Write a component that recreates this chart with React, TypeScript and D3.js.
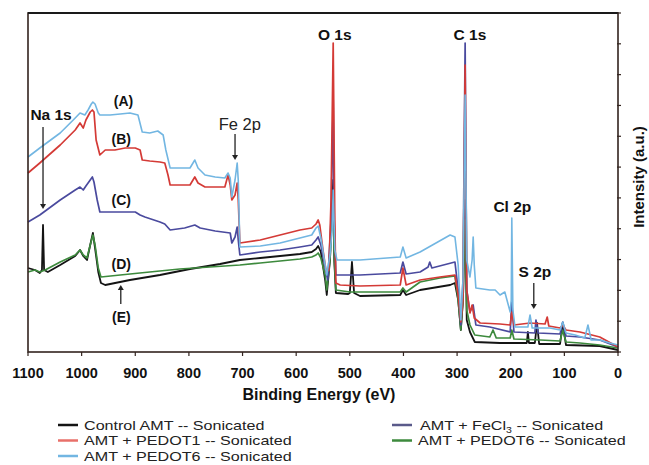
import React from "react";
import * as d3 from "d3";

// Binding energy (eV) / intensity (a.u.) pairs for each spectrum
const seriesA_BE = [1100,1078,1040,1012,1003,994,988,982,979,975,969,966,947,928,910,895,887,873,858,848,843,835,808,798,789,783,770,751,733,727,723,720,714,710,708,705,667,630,593,571,563,559,554,546,543,537,533,531,529,528,524,481,406,401,395,369,313,304,298,293,289,285,282,276,272,270,268,265,239,229,220,211,201,199,198,196,192,168,164,160,127,108,103,97,80,62,56,50,34,15,0];
const seriesA_I = [195,204,219,234,239,237,242,248,250,248,239,237,237,238,239,237,220,219,221,217,202,184,184,184,192,184,177,175,174,179,174,155,172,189,172,105,106,109,114,117,124,126,114,87,77,97,122,162,122,102,92,92,95,105,94,100,117,115,87,32,72,257,92,75,92,115,87,64,62,62,57,60,40,52,134,42,25,25,37,24,24,22,30,19,17,14,27,12,12,9,7];

const seriesB_BE = [1100,1078,1040,1012,1003,997,992,984,980,977,973,966,956,938,919,900,891,887,873,854,845,839,835,798,789,783,770,733,727,723,720,714,710,708,705,667,630,593,571,563,559,556,550,544,539,535,531,528,526,518,481,406,401,395,369,332,304,298,293,289,285,282,276,272,268,257,220,201,198,194,164,136,132,129,108,103,97,71,34,0];
const seriesB_I = [179,189,207,222,229,224,232,240,242,240,212,197,202,202,204,204,202,192,191,190,189,177,167,167,175,169,165,165,177,167,152,157,169,152,109,112,117,122,124,128,132,127,102,80,82,152,309,132,69,67,66,67,84,67,72,75,77,57,30,52,287,62,39,47,34,29,28,27,40,27,29,28,35,26,24,27,22,20,15,5];

const seriesC_BE = [1100,1078,1040,1012,1003,997,992,984,980,977,971,966,947,919,900,891,882,854,845,835,808,789,779,751,723,720,714,710,708,705,667,630,593,571,563,559,554,546,541,535,531,529,526,481,406,401,395,369,354,351,347,304,298,293,289,285,282,276,270,265,239,201,198,194,155,153,149,108,103,97,71,34,0];
const seriesC_I = [130,137,152,162,165,162,166,172,175,170,152,140,140,140,140,137,135,130,128,122,124,127,124,121,119,109,115,125,112,97,100,102,105,107,112,115,107,84,72,132,252,132,77,77,79,90,78,80,85,90,84,90,62,27,72,309,62,40,47,27,25,20,50,20,19,32,19,18,30,16,15,12,5];

const seriesD_BE = [1100,1087,1078,1068,1040,1012,1003,997,990,984,979,975,969,964,928,873,817,761,705,667,630,593,571,563,559,554,546,543,537,531,529,526,500,406,401,395,369,332,304,298,293,289,285,282,276,267,239,233,227,201,198,194,145,108,103,97,71,34,0];
const seriesD_I = [80,82,80,82,90,97,102,97,94,107,117,107,84,75,77,80,83,85,87,89,91,93,95,97,99,94,77,62,92,152,92,62,60,60,64,60,70,74,76,52,22,52,132,42,27,17,15,22,14,14,22,13,12,11,22,10,9,7,4];

const seriesE_BE = [1100,1087,1078,1074,1072,1070,1063,1040,1012,1003,997,990,984,979,975,969,964,956,910,854,798,742,705,667,630,593,571,563,559,554,546,543,537,531,529,526,503,500,496,492,481,406,401,395,369,313,304,298,293,289,285,282,276,267,220,170,168,166,155,151,147,108,103,97,34,0];
const seriesE_I = [84,82,79,82,127,82,80,87,96,102,96,92,107,119,104,80,69,67,72,77,83,88,92,94,96,98,100,103,106,100,72,57,92,172,92,59,58,59,90,59,56,57,62,57,62,67,69,52,22,52,152,32,20,10,9,9,20,9,9,29,8,8,29,7,6,2];

const xTicks = [1100, 1000, 900, 800, 700, 600, 500, 400, 300, 200, 100, 0];
const legendLabels = [
  "Control AMT -- Sonicated",
  "AMT + PEDOT1 -- Sonicated",
  "AMT + PEDOT6 -- Sonicated",
  "AMT + FeCl3 -- Sonicated",
  "AMT + PEDOT6 -- Sonicated",
];

const FONT = "'Liberation Sans', Arial, Helvetica, sans-serif";

export default function App() {
  const W = 649, H = 465;
  const left = 28, right = 618, top = 13, bottom = 352;
  const x = d3.scaleLinear().domain([1100, 0]).range([left, right]);
  const y = d3.scaleLinear().domain([0, 339]).range([bottom, top]);
  const yTicks = d3.range(0, 12).map((i) => (i * 339) / 11);

  const mk = (be: number[], it: number[]) => be.map((b, i) => [b, it[i]] as [number, number]);
  const line = d3.line<[number, number]>().x((d) => x(d[0])).y((d) => y(d[1]));

  const series = [
    { key: "E", data: mk(seriesE_BE, seriesE_I), color: "#141414", w: 1.8 },
    { key: "D", data: mk(seriesD_BE, seriesD_I), color: "#3d8a3d", w: 1.7 },
    { key: "C", data: mk(seriesC_BE, seriesC_I), color: "#4a4a9e", w: 1.7 },
    { key: "B", data: mk(seriesB_BE, seriesB_I), color: "#d43a36", w: 1.7 },
    { key: "A", data: mk(seriesA_BE, seriesA_I), color: "#72b6e2", w: 1.6 },
  ];

  const arrowDown = (xp: number, y1: number, y2: number, col: string) => (
    <g>
      <line x1={xp} y1={y1} x2={xp} y2={y2 - 4} stroke={col} strokeWidth={1.3} />
      <path d={`M${xp - 3},${y2 - 5} L${xp + 3},${y2 - 5} L${xp},${y2} Z`} fill={col} />
    </g>
  );
  const arrowUp = (xp: number, y1: number, y2: number, col: string) => (
    <g>
      <line x1={xp} y1={y1} x2={xp} y2={y2 + 4} stroke={col} strokeWidth={1.3} />
      <path d={`M${xp - 3},${y2 + 5} L${xp + 3},${y2 + 5} L${xp},${y2} Z`} fill={col} />
    </g>
  );

  const legendColors = ["#141414", "#e8706a", "#72b6e2", "#5a5a8a", "#3d8a3d"];
  const legendPos = [
    [58, 425], [58, 440.5], [58, 456], [392, 425], [392, 440.5],
  ];

  return (
    <svg width={W} height={H} style={{ position: "absolute", left: 0, top: 0, background: "#fff" }} fontFamily={FONT}>
      <rect x={0} y={0} width={W} height={H} fill="#fff" />
      {series.map((s) => (
        <path key={s.key} d={line(s.data) || ""} fill="none" stroke={s.color} strokeWidth={s.w} strokeLinejoin="round" />
      ))}
      {/* frame */}
      <rect x={left} y={top} width={right - left} height={bottom - top} fill="none" stroke="#33241f" strokeWidth={1.6} />
      <line x1={left} x2={right} y1={top} y2={top} stroke="#1a1a1a" strokeWidth={2.2} />
      {xTicks.map((t) => (
        <line key={t} x1={x(t)} x2={x(t)} y1={bottom} y2={bottom + 4} stroke="#33241f" strokeWidth={1.2} />
      ))}
      {yTicks.map((t, i) => (
        <line key={i} x1={right - 1} x2={right + 3} y1={y(t)} y2={y(t)} stroke="#33241f" strokeWidth={1.2} />
      ))}
      {xTicks.map((t) => (
        <text key={t} x={x(t)} y={378} textAnchor="middle" fontSize={14.5} fontWeight="bold" fill="#111">{t}</text>
      ))}
      <text x={319} y={400} textAnchor="middle" fontSize={16} fontWeight="bold" fill="#111">Binding Energy (eV)</text>
      <text transform={`translate(644,${177}) rotate(-90)`} textAnchor="middle" fontSize={15} fontWeight="bold" fill="#111">Intensity (a.u.)</text>

      {/* peak annotations */}
      <text x={x(528)} y={40} textAnchor="middle" fontSize={15.5} fontWeight="bold" fill="#111">O 1s</text>
      <text x={x(276)} y={40} textAnchor="middle" fontSize={15.5} fontWeight="bold" fill="#111">C 1s</text>
      <text x={x(197)} y={212} textAnchor="middle" fontSize={15.5} fontWeight="bold" fill="#111">Cl 2p</text>
      <text x={x(155)} y={277} textAnchor="middle" fontSize={15.5} fontWeight="bold" fill="#111">S 2p</text>
      {arrowDown(x(157), 283, 309, "#222")}
      <text x={x(1057)} y={120} textAnchor="middle" fontSize={15.5} fontWeight="bold" fill="#111">Na 1s</text>
      {arrowDown(x(1072), 127, 209, "#222")}
      <text x={x(705)} y={130} textAnchor="middle" fontSize={16.5} fill="#222">Fe 2p</text>
      {arrowDown(x(714), 134, 160, "#222")}
      <text x={x(922)} y={106} textAnchor="middle" fontSize={14} fontWeight="bold" fill="#111">(A)</text>
      <text x={x(926)} y={144} textAnchor="middle" fontSize={14} fontWeight="bold" fill="#111">(B)</text>
      <text x={x(926)} y={205} textAnchor="middle" fontSize={14} fontWeight="bold" fill="#111">(C)</text>
      <text x={x(926)} y={269} textAnchor="middle" fontSize={14} fontWeight="bold" fill="#111">(D)</text>
      <text x={x(926)} y={322} textAnchor="middle" fontSize={14} fontWeight="bold" fill="#111">(E)</text>
      {arrowUp(x(927), 304, 285, "#222")}

      {/* legend */}
      {legendLabels.map((lab, i) => {
        const [lx, ly] = legendPos[i];
        const isFe = lab.includes("FeCl3");
        return (
          <g key={i}>
            <line x1={lx} x2={lx + 20} y1={ly} y2={ly} stroke={legendColors[i]} strokeWidth={2.5} />
            <g transform={`translate(${lx + (isFe ? 28 : 26)},${ly + 4.5}) scale(1.24,1)`}>
              {isFe ? (
                <text x={0} y={0} fontSize={13} fill="#222">
                  AMT + FeCl<tspan fontSize={8.5} dy={3}>3</tspan><tspan dy={-3}> -- Sonicated</tspan>
                </text>
              ) : (
                <text x={0} y={0} fontSize={13} fill="#222">{lab}</text>
              )}
            </g>
          </g>
        );
      })}
    </svg>
  );
}
